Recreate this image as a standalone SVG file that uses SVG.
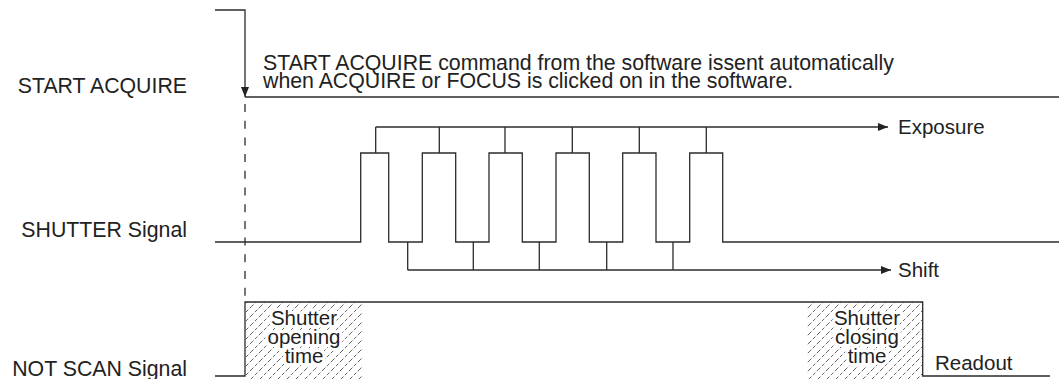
<svg xmlns="http://www.w3.org/2000/svg" width="1059" height="379" viewBox="0 0 1059 379">
<style>
.ln{fill:none;stroke:#2b2b2b;stroke-width:1.3}
.t{font-family:"Liberation Sans",Arial,sans-serif;font-size:20.5px;fill:#222}
.big{font-size:21.3px}
.c{text-anchor:middle}
.r{text-anchor:end}
.halo{stroke:#fff;stroke-width:6;paint-order:stroke;stroke-linejoin:round}
</style>
<defs>
<marker id="ah" viewBox="0 0 10 8" refX="10" refY="4" markerWidth="10" markerHeight="8" markerUnits="userSpaceOnUse" orient="auto">
<path d="M0,0 L10,4 L0,8 Z" fill="#222"/>
</marker>
<pattern id="hatch" patternUnits="userSpaceOnUse" width="9" height="9">
<path d="M-1,10 L10,-1" stroke="#666" stroke-width="1" stroke-dasharray="3.5 2"/>
</pattern>
</defs>
<rect width="1059" height="379" fill="#fff"/>

<g id="labels">
<text class="t big r" x="187" y="93">START ACQUIRE</text>
<text class="t big r" x="187" y="237">SHUTTER Signal</text>
<text class="t big r" x="187" y="376">NOT SCAN Signal</text>
</g>

<g id="start-acquire">
<path class="ln" d="M215,10 H245 V97" marker-end="url(#ah)"/>
<path class="ln" d="M245,97 H1059"/>
<text class="t big" x="263" y="70">START ACQUIRE command from the software issent automatically</text>
<text class="t big" x="263" y="88">when ACQUIRE or FOCUS is clicked on in the software.</text>
</g>

<g id="connectors">
<path class="ln" d="M245,104 V302" stroke-dasharray="8 8.7"/>
</g>

<g id="shutter-signal">
<path class="ln" d="M215,242 H360.7 V153 H388.7 V242 H422.3 V153 H455.7 V242 H489 V153 H522.3 V242 H556 V153 H589.3 V242 H622.7 V153 H656 V242 H689.7 V153 H722.7 V242 H1059"/>
</g>

<g id="exposure">
<path class="ln" d="M375.7,153 V127 M439.3,153 V127 M505,153 V127 M572.3,153 V127 M639.3,153 V127 M706.3,153 V127"/>
<path class="ln" d="M375.7,127 H888" marker-end="url(#ah)"/>
<text class="t" x="898" y="134">Exposure</text>
</g>

<g id="shift">
<path class="ln" d="M407.7,242 V270 M473.3,242 V270 M539.3,242 V270 M606.7,242 V270 M673,242 V270"/>
<path class="ln" d="M407.7,270 H891" marker-end="url(#ah)"/>
<text class="t" x="898" y="277">Shift</text>
</g>

<g id="not-scan-signal">
<rect x="245" y="302" width="117" height="77" fill="url(#hatch)"/>
<rect x="807" y="302" width="116" height="77" fill="url(#hatch)"/>
<path class="ln" d="M215,376 H245 V302 H922.7 V376 H1050"/>
</g>

<g id="shutter-opening">
<text class="t c halo" x="304" y="325">Shutter</text>
<text class="t c halo" x="304" y="344">opening</text>
<text class="t c halo" x="304" y="363">time</text>
</g>

<g id="shutter-closing">
<text class="t c halo" x="867" y="325">Shutter</text>
<text class="t c halo" x="867" y="344">closing</text>
<text class="t c halo" x="867" y="363">time</text>
</g>

<g id="readout">
<text class="t" x="935" y="370">Readout</text>
</g>
</svg>
